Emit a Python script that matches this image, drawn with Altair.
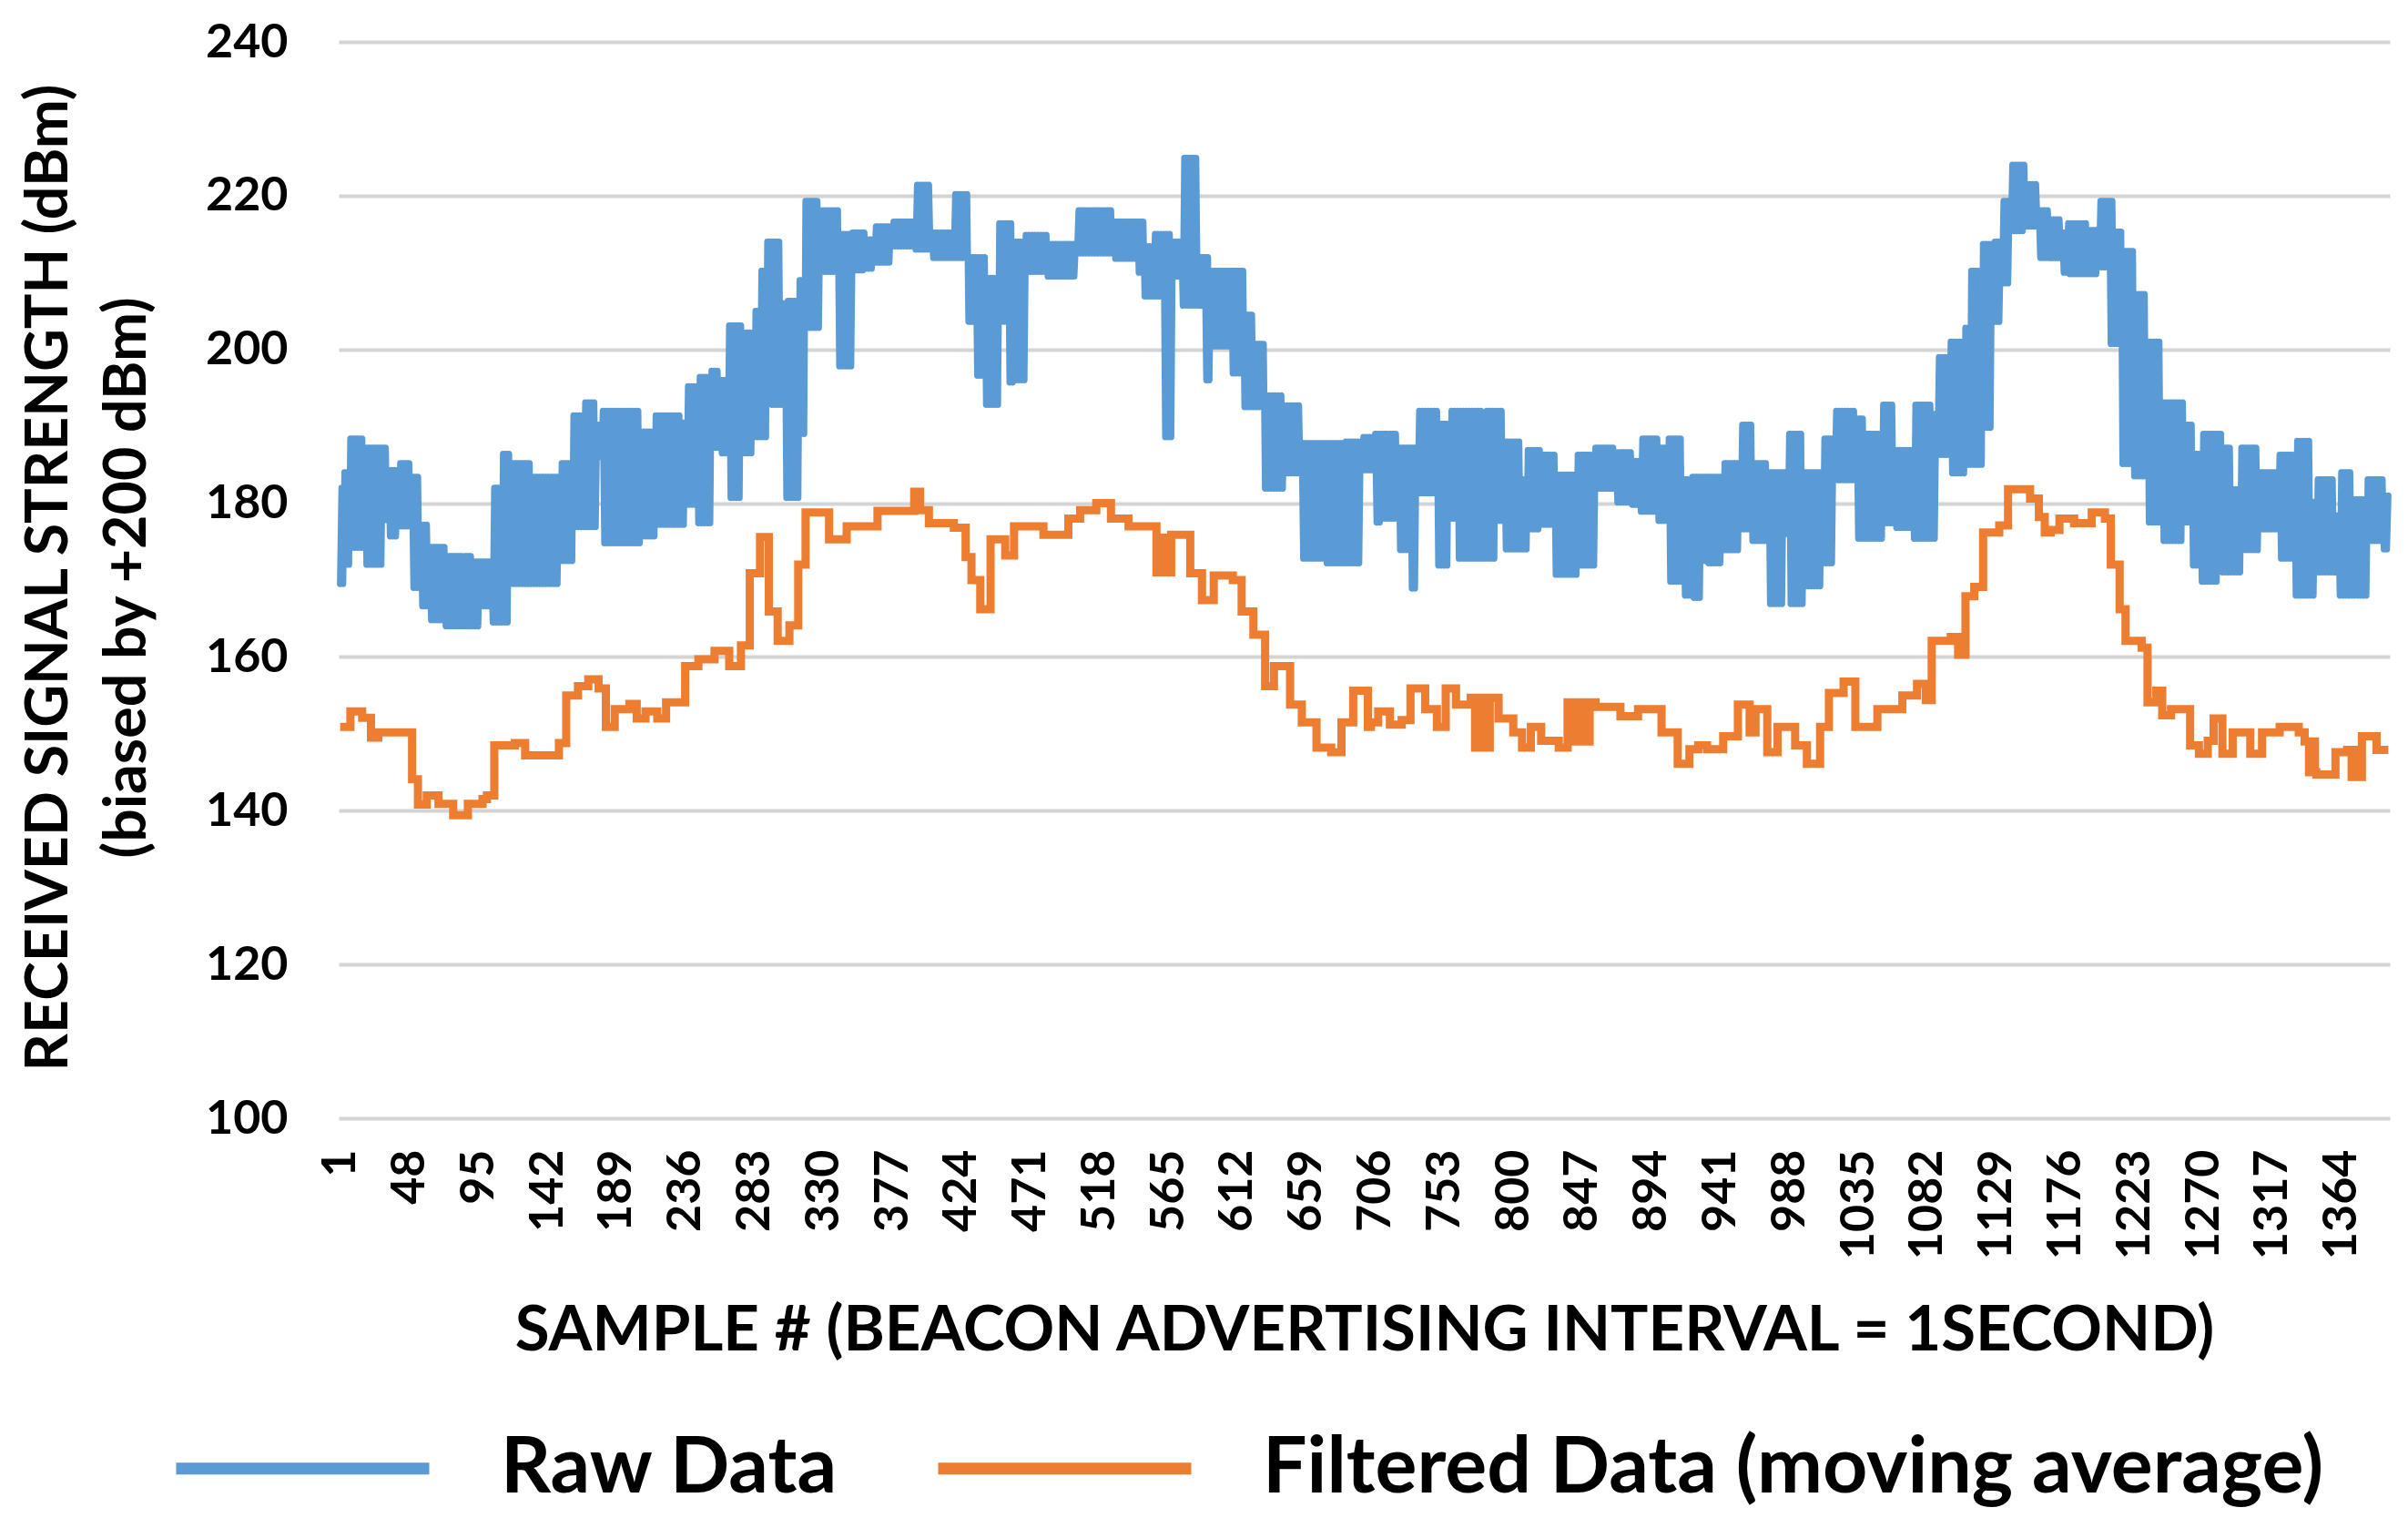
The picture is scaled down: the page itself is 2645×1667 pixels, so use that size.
import altair as alt
import pandas as pd

# ---------------- data ----------------
# Raw data: noisy band; for each segment start sample, upper and lower envelope
RAW_START = [1, 4, 8, 18, 30, 34, 41, 50, 56, 62,
             73, 91, 97, 105, 111, 117, 132, 151, 160, 168,
             176, 180, 206, 216, 233, 237, 245, 254, 260, 266,
             275, 283, 287, 292, 295, 301, 305, 314, 318, 328,
             341, 350, 359, 365, 377, 393, 404, 419, 429, 434,
             441, 450, 456, 460, 468, 483, 503, 528, 545, 549,
             556, 562, 568, 575, 586, 590, 594, 608, 617, 623,
             631, 644, 656, 673, 685, 697, 706, 711, 722, 730,
             735, 749, 757, 762, 779, 782, 789, 794, 805, 810,
             819, 829, 844, 856, 870, 881, 887, 899, 906, 916,
             922, 929, 932, 943, 955, 963, 974, 984, 988, 998,
             1011, 1019, 1034, 1040, 1052, 1060, 1073, 1085, 1089, 1098,
             1108, 1112, 1120, 1127, 1133, 1139, 1149, 1158, 1166, 1174,
             1178, 1192, 1199, 1206, 1209, 1215, 1223, 1232, 1242, 1257,
             1263, 1269, 1280, 1283, 1289, 1296, 1308, 1322, 1333, 1343,
             1347, 1359, 1363, 1372, 1382, 1393]
RAW_HI = [182, 184, 188.4, 187.2, 187.2, 184.3, 185.2, 183.4, 177.2, 174.3,
          173.1, 172.4, 172.4, 182, 186.4, 185.2, 183.4, 185.2, 191.4, 193.1,
          190.2, 192, 189.3, 191.4, 190.5, 195.2, 196.4, 197.2, 196, 203.1,
          202.2, 205, 210.2, 214, 214, 206, 206.3, 209, 219.3, 218.1,
          215, 215.2, 214.3, 216, 216.6, 221.4, 215.2, 220.2, 212, 212,
          209.3, 216.4, 216.4, 214, 214.9, 213.7, 218.1, 216.6, 216.6, 213.4,
          215, 215, 214, 224.9, 212, 212, 210.2, 210.2, 204.5, 200.7,
          194, 192.7, 187.8, 187.8, 188, 188.6, 189, 189, 187.2, 187.2,
          192, 190.3, 192, 192, 186, 192, 192, 188, 183.1, 186.9,
          186.3, 183.7, 186.3, 187.2, 186.6, 185.5, 188.4, 187.2, 188.4, 183.1,
          183.4, 183.4, 183.4, 185.2, 190.2, 185.2, 184, 184, 189, 184,
          188.4, 192, 191, 189, 192.8, 186.9, 192.8, 191.6, 199, 201,
          202.8, 210.2, 213.7, 214, 219.3, 224, 221.5, 218.1, 216.9, 215.2,
          216.4, 215.5, 219.3, 219.3, 215.3, 212.8, 207.2, 201, 193.1, 190.2,
          186.4, 189, 189, 187.2, 181.8, 187.2, 184, 186.3, 188.1, 180.2,
          183.1, 178.4, 184, 180.5, 183.1, 181]
RAW_LO = [169.5, 172, 174.2, 172, 177.8, 175.7, 177, 169, 166.6, 164.8,
          164, 164, 166.6, 164.5, 164.5, 169.5, 169.5, 172.5, 176.9, 176.9,
          186, 174.8, 175.7, 177.2, 177.2, 179.8, 177.4, 187.2, 186.5, 180.7,
          186.5, 188.6, 188.6, 203.6, 192.8, 192.8, 180.7, 189, 202.8, 210.1,
          197.8, 210.3, 210.5, 211.3, 213.4, 213, 211.9, 211.9, 203.6, 196.6,
          192.8, 203.6, 195.7, 196, 210.1, 209.5, 212.5, 211.8, 210, 206.9,
          206.9, 188.6, 209.5, 205.7, 205.7, 196, 200.4, 196.9, 192.5, 192.5,
          181.9, 183.9, 172.8, 172.2, 172.2, 184.3, 177.5, 178, 173.9, 168.9,
          181.3, 171.9, 178, 172.8, 172.8, 172.8, 177.7, 174, 174, 176.6,
          177.2, 170.7, 171.9, 181.9, 180.1, 179.8, 178.9, 177.7, 169.8, 168,
          167.7, 172.5, 172.2, 173.9, 176.6, 175.1, 166.9, 176, 166.9, 169.2,
          172.2, 183, 175.4, 175.4, 177.4, 176.8, 175.4, 175.4, 186.3, 183.9,
          185, 185, 189.8, 203.6, 208.6, 215.4, 216, 211.9, 211.9, 210,
          209.8, 209.8, 210.7, 200.7, 200.7, 185.1, 183.5, 177.5, 175.1, 177.5,
          171.9, 169.8, 176.9, 171, 171, 173.9, 176.6, 172.8, 168, 168,
          171, 171, 168, 168, 175.1, 174]

# Filtered data (moving average): step values starting at each sample
FILT_START = [1, 8, 16, 22, 27, 50, 54, 60, 68, 78,
              88, 98, 101, 106, 120, 127, 150, 155, 163, 170,
              177, 182, 188, 198, 203, 209, 217, 223, 236, 245,
              256, 266, 274, 280, 287, 293, 299, 307, 313, 318,
              334, 346, 367, 392, 396, 402, 419, 427, 431, 437,
              444, 454, 460, 480, 497, 505, 516, 526, 538, 557,
              561, 564, 567, 580, 588, 596, 609, 615, 623, 631,
              637, 648, 656, 666, 676, 683, 691, 701, 703, 708,
              716, 724, 730, 740, 748, 754, 761, 771, 774, 777,
              780, 784, 790, 800, 806, 812, 819, 831, 837, 841,
              845, 849, 852, 856, 873, 885, 901, 912, 920, 926,
              932, 943, 953, 961, 965, 973, 980, 992, 1000, 1009,
              1015, 1025, 1033, 1048, 1065, 1075, 1081, 1085, 1098, 1103,
              1108, 1114, 1120, 1131, 1137, 1152, 1158, 1162, 1166, 1172,
              1182, 1194, 1203, 1207, 1213, 1217, 1228, 1232, 1238, 1242,
              1248, 1261, 1267, 1273, 1277, 1283, 1290, 1302, 1310, 1322,
              1335, 1339, 1342, 1344, 1346, 1347, 1360, 1368, 1371, 1374,
              1376, 1378, 1388, 1396]
FILT_VAL = [150.9, 152.9, 152.1, 149.5, 150.2, 144.1, 140.8, 142, 140.9, 139.4,
            140.9, 141.5, 142, 148.5, 148.8, 147.2, 148.8, 155, 156.2, 157.1,
            155.9, 150.9, 153.2, 153.9, 152, 152.9, 152, 154.1, 158.8, 159.7,
            160.8, 158.8, 161.5, 170.9, 175.6, 165.9, 162.1, 164.1, 172, 178.8,
            175.3, 177, 179, 181.5, 179.1, 177.4, 176.8, 173, 170, 166.2,
            175.3, 173.2, 177, 175.9, 178, 179.1, 180, 178, 177, 171,
            175.5, 171, 175.9, 170.9, 167.4, 170.6, 170, 165.9, 162.9, 156.2,
            158.8, 153.8, 151.5, 148.2, 147.6, 151.5, 155.6, 150.9, 151.5, 152.9,
            151.2, 151.8, 155.9, 153.2, 150.9, 155.9, 153.8, 154.7, 148.2, 154.7,
            148.2, 154.7, 152, 150.2, 148.2, 150.9, 149.1, 148.2, 154.1, 149,
            154.1, 149, 154.1, 153.5, 152.3, 153.2, 150.2, 146.1, 148, 148.5,
            148, 149.7, 153.8, 150.2, 153.2, 147.6, 150.9, 148.5, 146.1, 150.9,
            155.3, 156.8, 150.9, 153.2, 155, 156.5, 154.4, 162.1, 162.6, 160.3,
            167.9, 169.1, 176.2, 177.1, 181.8, 180.6, 178.2, 176.2, 176.5, 178,
            177.4, 178.8, 178, 172, 166.2, 162.1, 161.2, 154.1, 155.6, 152.4,
            153.2, 148.5, 147.4, 149.1, 152, 147.4, 150.2, 147.4, 150.2, 150.9,
            150.2, 149, 145, 149, 145, 144.7, 147.6, 147.9, 144.4, 147.9,
            144.4, 149.7, 147.9, 147.9]

LAST_SAMPLE = 1396
X_TICKS = [1, 48, 95, 142, 189, 236, 283, 330, 377, 424, 471, 518, 565, 612,
           659, 706, 753, 800, 847, 894, 941, 988, 1035, 1082, 1129, 1176,
           1223, 1270, 1317, 1364]
Y_TICKS = [100, 120, 140, 160, 180, 200, 220, 240]

SERIES = ["Raw Data", "Filtered Data (moving average)"]
COLORS = ["#5B9BD5", "#ED7D31"]

# ---------------- tables ----------------
raw_rows = []
for i, start in enumerate(RAW_START):
    end = RAW_START[i + 1] if i + 1 < len(RAW_START) else LAST_SAMPLE + 1
    for s in range(start, end):
        v = RAW_HI[i] if s % 2 == 0 else RAW_LO[i]
        raw_rows.append({"sample": s, "value": v, "series": SERIES[0]})
raw_df = pd.DataFrame(raw_rows)

filt_df = pd.DataFrame({"sample": FILT_START, "value": FILT_VAL,
                        "series": SERIES[1]})

FONT = "Lato"
SYM_W = 278

x_enc = alt.X("sample:Q",
              scale=alt.Scale(domain=[0, 1397], nice=False, zero=False),
              axis=alt.Axis(values=X_TICKS, format="d", labelAngle=270,
                            labelAlign="right", labelBaseline="middle",
                            labelPadding=34, labelFontSize=52,
                            labelFont=FONT, labelFontWeight="bold",
                            labelColor="black", labelFlush=False,
                            labelOverlap=False, ticks=False, domain=False,
                            grid=False,
                            title="SAMPLE # (BEACON ADVERTISING INTERVAL = 1SECOND)",
                            titleFont=FONT, titleFontSize=69,
                            titleFontWeight="bold", titleColor="black",
                            titleBaseline="alphabetic", titleY=254))
y_enc = alt.Y("value:Q",
              scale=alt.Scale(domain=[100, 240], nice=False, zero=False),
              axis=alt.Axis(values=Y_TICKS, labelFontSize=52, labelFont=FONT,
                            labelFontWeight="bold", labelColor="black",
                            labelPadding=56, ticks=False, domain=False,
                            grid=True, gridColor="#D4D4D4", gridWidth=4,
                            title=["RECEIVED SIGNAL STRENGTH (dBm)",
                                   "(biased by +200 dBm)"],
                            titleFont=FONT, titleFontSize=64.5,
                            titleFontWeight="bold", titleColor="black",
                            titleAngle=270, titleAlign="center",
                            titleBaseline="middle", titleLineHeight=86,
                            titleX=-318, titleY=588))
color_enc = alt.Color("series:N",
                      scale=alt.Scale(domain=SERIES, range=COLORS),
                      legend=alt.Legend(title=None, orient="none",
                                        direction="horizontal",
                                        legendX=-185,
                                        legendY=1560 - SYM_W / 2,
                                        symbolType="stroke",
                                        symbolStrokeWidth=13,
                                        symbolSize=SYM_W * SYM_W,
                                        labelFontSize=86, labelFont=FONT,
                                        labelFontWeight="bold",
                                        labelColor="black",
                                        labelLimit=3000, labelOffset=72,
                                        columnPadding=83, padding=0))

raw = alt.Chart(raw_df).mark_line(strokeWidth=7, strokeJoin="round",
                                  strokeCap="round").encode(
    x=x_enc, y=y_enc, color=color_enc)

filt = alt.Chart(filt_df).mark_line(strokeWidth=9, interpolate="step-after",
                                    strokeJoin="miter").encode(
    x=x_enc, y=y_enc, color=color_enc)

chart = alt.layer(raw, filt).properties(
    width=2253, height=1182,
    autosize=alt.AutoSizeParams(type="none"),
    padding={"left": 364, "top": 38, "right": 12, "bottom": 431},
    background="white",
).configure_view(strokeWidth=0)

chart.save("out.html", embed_options={"renderer": "svg", "actions": False})
